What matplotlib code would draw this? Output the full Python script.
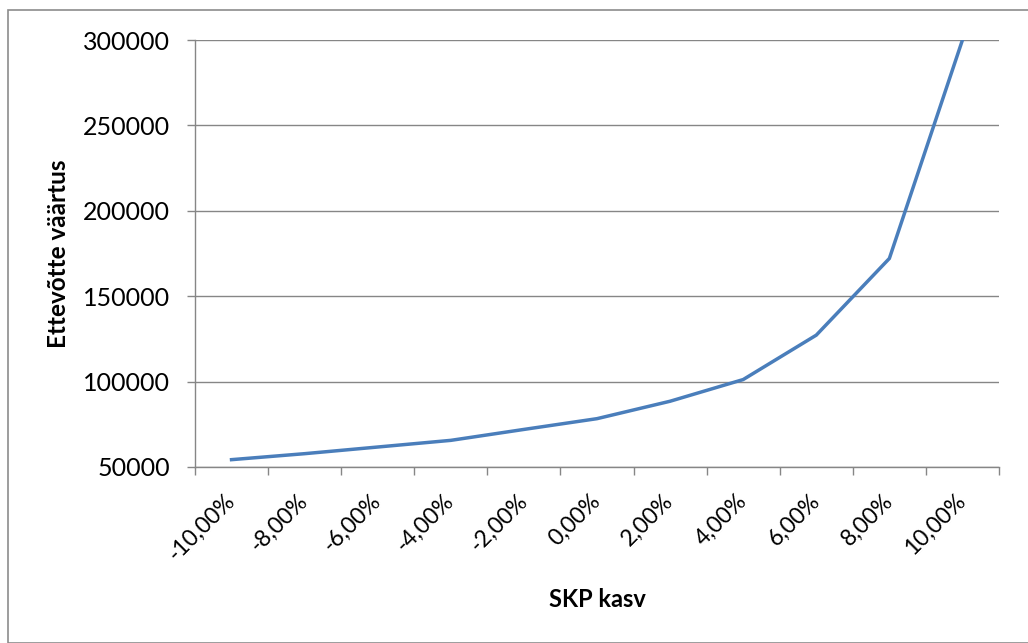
import matplotlib.pyplot as plt
from matplotlib.patches import Rectangle
from matplotlib.ticker import FixedLocator

# SKP kasv (kategooriad) ja ettevõtte väärtus
kasv_labels = ["-10,00%", "-8,00%", "-6,00%", "-4,00%", "-2,00%", "0,00%",
               "2,00%", "4,00%", "6,00%", "8,00%", "10,00%"]
vaartus = [54300, 57800, 61700, 65600, 72000, 78300,
           88500, 101200, 127200, 172100, 300000]
y_ticks = [50000, 100000, 150000, 200000, 250000, 300000]

plt.rcParams["font.family"] = ["Lato", "DejaVu Sans"]

W, H = 1028, 643
fig = plt.figure(figsize=(W / 100, H / 100), dpi=100)

# joonise raam (paremalt ja alt ääreni lõigatud)
fig.patches.append(Rectangle((8 / W, 0), 1.2, (H - 10) / H, transform=fig.transFigure,
                             fill=False, edgecolor="#8c8c8c", linewidth=1.2))

ax = fig.add_axes([195 / W, 1 - 467 / H, (999 - 195) / W, (467 - 40) / H])

x = list(range(len(vaartus)))
ax.plot(x, vaartus, color="#4a7ebb", linewidth=2.5, solid_joinstyle="miter")

ax.set_xlim(-0.5, len(vaartus) - 0.5)
ax.set_ylim(50000, 300000)
ax.set_yticks(y_ticks)
ax.set_yticklabels([str(v) for v in y_ticks])
ax.yaxis.grid(True, color="#868686", linewidth=1.0)
ax.set_axisbelow(True)

# tikid kategooriate vahel, sildid kategooriate keskel
ax.set_xticks(x)
ax.set_xticklabels(kasv_labels, rotation=45, ha="right", va="center",
                   rotation_mode="anchor")
ax.xaxis.set_minor_locator(FixedLocator([i - 0.5 for i in range(len(vaartus) + 1)]))
ax.tick_params(axis="x", which="major", length=0, pad=22, labelsize=16.5)
ax.tick_params(axis="x", which="minor", length=6, color="#868686", width=1)
ax.tick_params(axis="y", length=6, color="#868686", width=1, pad=12, labelsize=18)

for side in ("top", "right"):
    ax.spines[side].set_visible(False)
for side in ("left", "bottom"):
    ax.spines[side].set_color("#868686")
    ax.spines[side].set_linewidth(1.0)

ax.set_xlabel("SKP kasv", fontsize=17, fontweight="bold", labelpad=17)
ax.set_ylabel("Ettevõtte väärtus", fontsize=17.5, fontweight="bold", labelpad=9)

fig.savefig("out.png", dpi=100, facecolor="white")
